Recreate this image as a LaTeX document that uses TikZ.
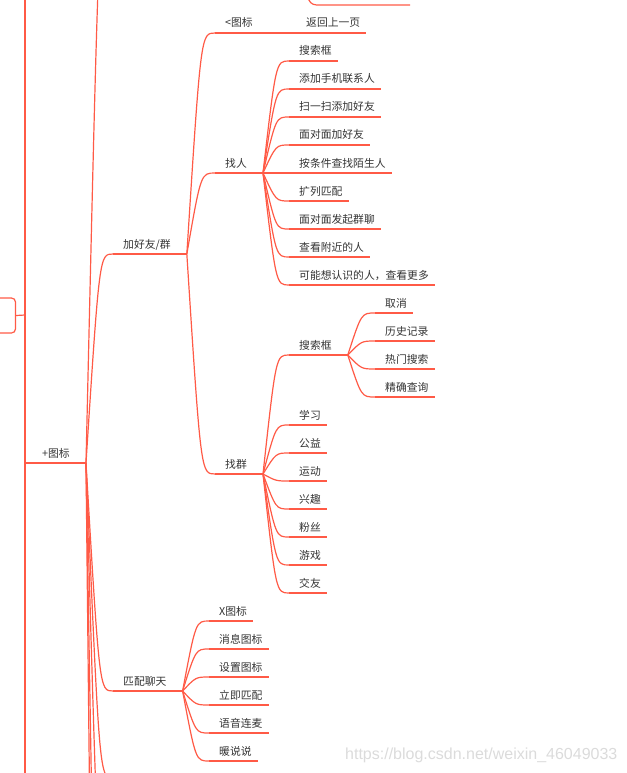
\documentclass[tikz,border=0pt]{standalone}
\usepackage{fontspec}
\newfontfamily\cjk{Noto Sans CJK SC}
\newfontfamily\wmfont{Liberation Sans}
\usetikzlibrary{calc}
\definecolor{br}{RGB}{255,90,70}
\definecolor{tx}{RGB}{51,51,51}
\newcommand\mmtopic[5]{%
  \node[lbl] (#1) at (#2,#3-6) {#4};
  \coordinate (#1-s) at ($(#1.base west)+(-10,6)$);
  \coordinate (#1-e) at ($(#1.base east)+(#5,6)$);
  \draw[ln] (#1-s) -- (#1-e);}
\begin{document}
\begin{tikzpicture}[x=1pt,y=-1pt,
  ln/.style={draw=br,line width=1.2pt},
  lbl/.style={anchor=base west,inner sep=0pt,text=tx,font=\cjk\fontsize{10.8}{13}\selectfont},
  branch/.style={to path={let \p1=(\tikztostart),\p2=(\tikztotarget) in .. controls ({0.5*\x1+0.5*\x2},\y2) .. (\tikztotarget)}}]
\useasboundingbox (0,0) rectangle (626,773);
\clip (0,0) rectangle (626,773);
% root
\node[draw=br,line width=1.2pt,rounded corners=4pt,minimum width=46pt,minimum height=35pt,inner sep=0pt] (root) at (-7.5,315.5) {};
\coordinate (rj) at (25,315);
\coordinate (rtop) at (25,-20);
\coordinate (rbot) at (25,800);
\draw[ln] (root.east) -- (rj);
\draw[ln] (rtop) -- (rbot);
% topics
\mmtopic{plus}{42}{463}{+图标}{16}
\draw[ln] (rj) |- (plus-s);
\mmtopic{jia}{123}{254}{加好友/群}{16}
\mmtopic{pei}{123}{691}{匹配聊天}{16}
\mmtopic{lt}{225}{33}{<图标}{16}
\mmtopic{ret}{306}{33}{返回上一页}{6}
\mmtopic{zr}{225}{173}{找人}{16}
\mmtopic{zq}{225}{474}{找群}{16}
% zhao ren children
\mmtopic{a1}{299}{61}{搜索框}{6}
\mmtopic{a2}{299}{89}{添加手机联系人}{6}
\mmtopic{a3}{299}{117}{扫一扫添加好友}{6}
\mmtopic{a4}{299}{145}{面对面加好友}{6}
\mmtopic{a5}{299}{173}{按条件查找陌生人}{6}
\mmtopic{a6}{299}{201}{扩列匹配}{6}
\mmtopic{a7}{299}{229}{面对面发起群聊}{6}
\mmtopic{a8}{299}{257}{查看附近的人}{6}
\mmtopic{a9}{299}{285}{可能想认识的人，查看更多}{6}
% zhao qun children
\mmtopic{b0}{299}{355}{搜索框}{16}
\mmtopic{c1}{385}{313}{取消}{6}
\mmtopic{c2}{385}{341}{历史记录}{6}
\mmtopic{c3}{385}{369}{热门搜索}{6}
\mmtopic{c4}{385}{397}{精确查询}{6}
\mmtopic{b1}{299}{425}{学习}{6}
\mmtopic{b2}{299}{453}{公益}{6}
\mmtopic{b3}{299}{481}{运动}{6}
\mmtopic{b4}{299}{509}{兴趣}{6}
\mmtopic{b5}{299}{537}{粉丝}{6}
\mmtopic{b6}{299}{565}{游戏}{6}
\mmtopic{b7}{299}{593}{交友}{6}
% pei dui liao tian children
\mmtopic{d1}{219}{621}{X图标}{6}
\mmtopic{d2}{219}{649}{消息图标}{6}
\mmtopic{d3}{219}{677}{设置图标}{6}
\mmtopic{d4}{219}{705}{立即匹配}{6}
\mmtopic{d5}{219}{733}{语音连麦}{6}
\mmtopic{d6}{219}{761}{暖说说}{6}
% off-screen ends
\coordinate (offa) at (113,-120);
\coordinate (offb) at (113,778);
\coordinate (offc) at (113,935);
\coordinate (offd) at (113,1266);
\coordinate (offe) at (113,1723);
\coordinate (tp) at (297,-40);
\coordinate (tc-s) at (320,5);
\coordinate (tc-e) at (410,5);
% connectors
\foreach \c in {jia,pei} \draw[ln] (plus-e) to[branch] (\c-s);
\foreach \c in {offa,offb,offc,offd,offe} \draw[ln] (plus-e) to[branch] (\c);
\foreach \c in {lt,zr,zq} \draw[ln] (jia-e) to[branch] (\c-s);
\draw[ln] (lt-e) -- (ret-s);
\foreach \c in {a1,a2,a3,a4,a5,a6,a7,a8,a9} \draw[ln] (zr-e) to[branch] (\c-s);
\foreach \c in {b0,b1,b2,b3,b4,b5,b6,b7} \draw[ln] (zq-e) to[branch] (\c-s);
\foreach \c in {c1,c2,c3,c4} \draw[ln] (b0-e) to[branch] (\c-s);
\foreach \c in {d1,d2,d3,d4,d5,d6} \draw[ln] (pei-e) to[branch] (\c-s);
\draw[ln] (tp) to[branch] (tc-s) -- (tc-e);
% watermark
\node[font=\wmfont\fontsize{16}{16}\selectfont,text=gray!28,anchor=base west,inner sep=0pt] (wm) at (345,759) {https://blog.csdn.net/weixin\_46049033};
\end{tikzpicture}
\end{document}
